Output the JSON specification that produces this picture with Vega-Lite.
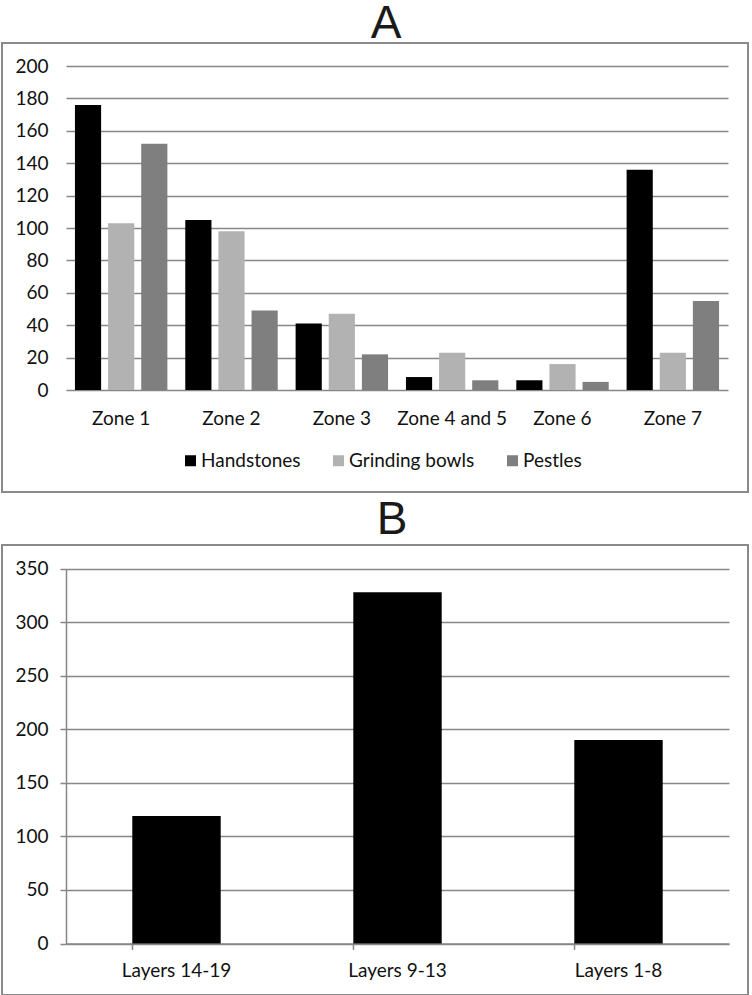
{
  "$schema": "https://vega.github.io/schema/vega-lite/v6.json",
  "padding": {"left": 1, "top": 0, "right": 0, "bottom": 0},
  "spacing": 3,
  "config": {
    "view": {"stroke": "#8a8a8a", "strokeWidth": 2},
    "font": "Lato",
    "axis": {"labelFont": "Lato", "labelFontSize": 19, "labelColor": "#111111", "gridColor": "#878787", "gridWidth": 1.5, "domainColor": "#878787", "domainWidth": 1.5, "tickColor": "#878787", "tickWidth": 1.5},
    "title": {"font": "Liberation Sans", "fontSize": 46, "fontWeight": "normal", "color": "#1a1a1a", "anchor": "middle", "baseline": "alphabetic"}
  },
  "vconcat": [
    {
      "width": 746,
      "height": 449,
      "title": {"text": "A", "offset": -5, "dx": 11},
      "data": {"values": [
        {"zone": "Zone 1", "type": "Handstones", "count": 176},
        {"zone": "Zone 1", "type": "Grinding bowls", "count": 103},
        {"zone": "Zone 1", "type": "Pestles", "count": 152},
        {"zone": "Zone 2", "type": "Handstones", "count": 105},
        {"zone": "Zone 2", "type": "Grinding bowls", "count": 98},
        {"zone": "Zone 2", "type": "Pestles", "count": 49},
        {"zone": "Zone 3", "type": "Handstones", "count": 41},
        {"zone": "Zone 3", "type": "Grinding bowls", "count": 47},
        {"zone": "Zone 3", "type": "Pestles", "count": 22},
        {"zone": "Zone 4 and 5", "type": "Handstones", "count": 8},
        {"zone": "Zone 4 and 5", "type": "Grinding bowls", "count": 23},
        {"zone": "Zone 4 and 5", "type": "Pestles", "count": 6},
        {"zone": "Zone 6", "type": "Handstones", "count": 6},
        {"zone": "Zone 6", "type": "Grinding bowls", "count": 16},
        {"zone": "Zone 6", "type": "Pestles", "count": 5},
        {"zone": "Zone 7", "type": "Handstones", "count": 136},
        {"zone": "Zone 7", "type": "Grinding bowls", "count": 23},
        {"zone": "Zone 7", "type": "Pestles", "count": 55}
      ]},
      "mark": {"type": "bar"},
      "encoding": {
        "x": {
          "field": "zone", "type": "nominal", "sort": null,
          "scale": {"range": [64, 726], "paddingInner": 0, "paddingOuter": 0},
          "axis": {"title": null, "orient": "bottom", "offset": -102, "labelAngle": 0, "ticks": false, "domain": false, "grid": false, "labelPadding": 19}
        },
        "xOffset": {
          "field": "type", "type": "nominal", "sort": ["Handstones", "Grinding bowls", "Pestles"],
          "scale": {"paddingInner": 0.21, "paddingOuter": 0.27}
        },
        "y": {
          "field": "count", "type": "quantitative",
          "scale": {"domain": [0, 200], "range": [347, 23], "nice": false},
          "axis": {"title": null, "offset": -64, "domain": false, "ticks": false, "values": [0, 20, 40, 60, 80, 100, 120, 140, 160, 180, 200], "labelPadding": 18}
        },
        "color": {
          "field": "type", "type": "nominal",
          "sort": ["Handstones", "Grinding bowls", "Pestles"],
          "scale": {"domain": ["Handstones", "Grinding bowls", "Pestles"], "range": ["#000000", "#b2b2b2", "#7f7f7f"]},
          "legend": {"title": null, "orient": "none", "direction": "horizontal", "legendX": 179, "legendY": 408, "symbolType": "square", "symbolSize": 121, "symbolStrokeWidth": 0, "symbolOpacity": 1, "labelFont": "Lato", "labelFontSize": 19, "labelColor": "#111111", "labelOffset": 1, "columnPadding": 28}
        }
      }
    },
    {
      "width": 746,
      "height": 450,
      "title": {"text": "B", "offset": 1, "dx": 17},
      "data": {"values": [
        {"layer": "Layers 14-19", "count": 119},
        {"layer": "Layers 9-13", "count": 328},
        {"layer": "Layers 1-8", "count": 190}
      ]},
      "mark": {"type": "bar", "color": "#000000"},
      "encoding": {
        "x": {
          "field": "layer", "type": "nominal", "sort": null,
          "scale": {"range": [64, 727], "paddingInner": 0.6, "paddingOuter": 0.3},
          "axis": {"title": null, "orient": "bottom", "offset": -51.5, "labelAngle": 0, "ticks": true, "tickSize": 6, "bandPosition": 0, "domain": true, "grid": false, "labelPadding": 12}
        },
        "y": {
          "field": "count", "type": "quantitative",
          "scale": {"domain": [0, 350], "range": [398.5, 23.7], "nice": false},
          "axis": {"title": null, "offset": -64, "domain": true, "ticks": true, "tickSize": 6, "values": [0, 50, 100, 150, 200, 250, 300, 350], "labelPadding": 12}
        }
      }
    }
  ]
}
